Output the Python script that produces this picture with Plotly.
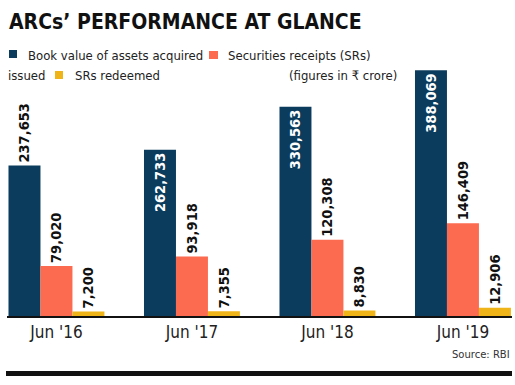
import plotly.graph_objects as go

categories = ["Jun '16", "Jun '17", "Jun '18", "Jun '19"]
book_value = [237653, 262733, 330563, 388069]
srs_issued = [79020, 93918, 120308, 146409]
srs_redeemed = [7200, 7355, 8830, 12906]

NAVY = "#0b3c5d"
ORANGE = "#fc6a4f"
YELLOW = "#efb418"
COND = "DejaVu Sans Condensed"

W, H = 515, 385
L, R, T, B = 7, 3, 60, 69
PW, PH = W - L - R, H - T - B


def px(x):
    return (x - L) / PW


def py(y):
    return (H - B - y) / PH


def fmt(v):
    return [f"{x:,}" for x in v]


fig = go.Figure()
fig.add_bar(x=list(range(4)), y=book_value, text=fmt(book_value), marker_color=NAVY,
            textposition=["outside", "inside", "inside", "inside"],
            textfont=dict(color=["#111", "white", "white", "white"]),
            name="Book value")
fig.add_bar(x=list(range(4)), y=srs_issued, text=fmt(srs_issued), marker_color=ORANGE,
            textposition="outside", textfont=dict(color="#111"), name="SRs issued")
fig.add_bar(x=list(range(4)), y=srs_redeemed, text=fmt(srs_redeemed), marker_color=YELLOW,
            textposition="outside", textfont=dict(color="#111"), name="SRs redeemed")
fig.update_traces(textangle=-90, insidetextanchor="end", cliponaxis=False,
                  constraintext="none", marker_line_width=0, hoverinfo="skip",
                  textfont_family=COND, textfont_size=14.5, textfont_weight="bold")

LEG = dict(family=COND, size=13, color="#222")
annotations = [
    dict(x=px(7), y=py(22), text="<b>ARCs’ PERFORMANCE AT GLANCE</b>",
         font=dict(family=COND, size=21, color="#111"), xanchor="left", yanchor="middle"),
    dict(x=px(26), y=py(55), text="Book value of assets acquired", font=LEG,
         xanchor="left", yanchor="middle"),
    dict(x=px(226), y=py(55), text="Securities receipts (SRs)", font=LEG,
         xanchor="left", yanchor="middle"),
    dict(x=px(6), y=py(75), text="issued", font=LEG, xanchor="left", yanchor="middle"),
    dict(x=px(73), y=py(75), text="SRs redeemed", font=LEG, xanchor="left", yanchor="middle"),
    dict(x=px(399), y=py(75), text="(figures in ₹ crore)", font=LEG,
         xanchor="right", yanchor="middle"),
    dict(x=px(512), y=py(354), text="Source: RBI",
         font=dict(family="DejaVu Sans", size=10, color="#333"), xanchor="right", yanchor="middle"),
]
for a in annotations:
    a.update(xref="paper", yref="paper", showarrow=False)

shapes = [
    dict(type="rect", x0=px(9), x1=px(17), y0=py(50), y1=py(58), fillcolor=NAVY, line_width=0),
    dict(type="rect", x0=px(209), x1=px(218), y0=py(51), y1=py(59), fillcolor=ORANGE, line_width=0),
    dict(type="rect", x0=px(55), x1=px(63), y0=py(71), y1=py(79), fillcolor=YELLOW, line_width=0),
    dict(type="rect", x0=px(6), x1=px(512), y0=py(371), y1=py(376), fillcolor="#111", line_width=0),
]
for s in shapes:
    s.update(xref="paper", yref="paper")

fig.update_layout(
    width=W, height=H, margin=dict(l=L, r=R, t=T, b=B),
    paper_bgcolor="white", plot_bgcolor="white",
    barmode="group", bargap=0.292, bargroupgap=0,
    showlegend=False, annotations=annotations, shapes=shapes,
    xaxis=dict(range=[-0.365, 3.362], tickvals=list(range(4)), ticktext=categories,
               showline=True, linecolor="#111", linewidth=1.5, showgrid=False,
               zeroline=False, ticks="", tickfont=dict(family=COND, size=17, color="#222")),
    yaxis=dict(range=[0, 404400], visible=False, showgrid=False, zeroline=False),
)

fig.write_html("out.html", config={"displayModeBar": False},
               post_script="document.body.style.margin='0';")
